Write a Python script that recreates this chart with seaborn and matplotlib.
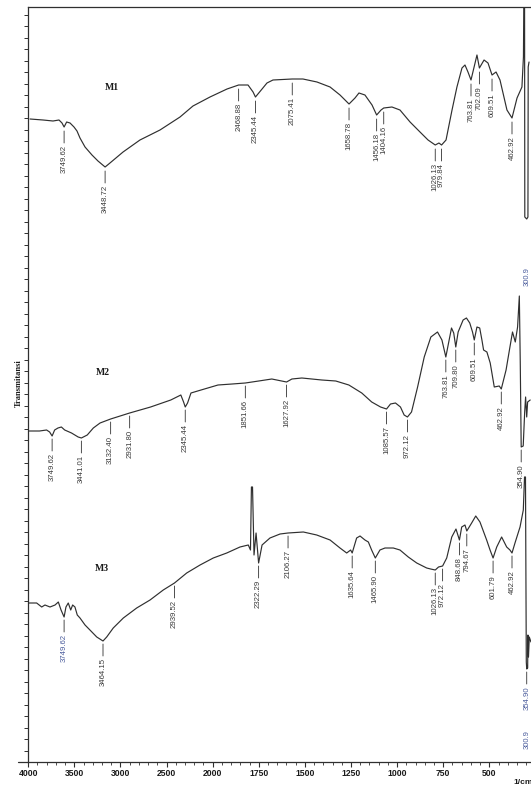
import numpy as np
import pandas as pd
import matplotlib
matplotlib.use("Agg")
import matplotlib.pyplot as plt
from matplotlib import font_manager
from matplotlib.ticker import FixedLocator, MultipleLocator, NullFormatter
from matplotlib.lines import Line2D
import seaborn as sns

# ---------------- data ----------------
m1_wn = [4000, 3904, 3831, 3787, 3765, 3749.62, 3731, 3706, 3677, 3655, 3633, 3596, 3545, 3501,
         3448.72, 3413, 3317, 3193, 3046, 2899, 2804, 2679, 2554, 2468.88, 2400, 2363, 2345.44,
         2297, 2261, 2217, 2075.41, 1997, 1894, 1798, 1725, 1658.78, 1615, 1586, 1542, 1490,
         1456.18, 1424, 1404.16, 1344, 1285, 1211, 1138, 1079, 1026.13, 999, 979.84, 947, 903,
         867, 830, 808, 786, 763.81, 734, 720, 702.09, 668, 639, 609.51, 580, 551, 500, 462.92,
         426, 390, 379, 374, 371, 369, 354.90, 346, 344, 338]
m1_t = [64.3, 64.2, 64.1, 64.2, 63.9, 63.5, 64.0, 63.9, 63.5, 63.1, 62.4, 61.5, 60.7, 60.1,
        59.5, 59.9, 61.0, 62.2, 63.2, 64.5, 65.6, 66.5, 67.3, 67.7, 67.7, 67.0, 66.5,
        67.3, 67.9, 68.2, 68.3, 68.3, 68.0, 67.5, 66.7, 65.8, 66.4, 66.9, 66.7, 65.7,
        64.7, 65.2, 65.4, 65.5, 65.2, 64.0, 63.0, 62.2, 61.7, 61.9, 61.7, 62.2, 65.2,
        67.5, 69.4, 69.7, 69.0, 68.2, 69.9, 70.7, 69.4, 70.2, 69.9, 68.7, 69.0, 68.2, 65.2, 64.4,
        66.4, 67.5, 70.5, 80.0, 80.0, 54.5, 54.3, 54.5, 69.5, 70.0]
m1_peaks = [3749.62, 3448.72, 2468.88, 2345.44, 2075.41, 1658.78, 1456.18, 1404.16,
            1026.13, 979.84, 763.81, 702.09, 609.51, 462.92]

m2_wn = [4000, 3883, 3808, 3776, 3749.62, 3723, 3688, 3652, 3617, 3545, 3475, 3441.01, 3379,
         3315, 3244, 3132.40, 2931.80, 2711, 2498, 2392, 2363, 2345.44, 2321, 2285, 2179, 2000,
         1923, 1851.66, 1779, 1708, 1627.92, 1599, 1545, 1491, 1437, 1361, 1290, 1220, 1166,
         1118, 1085.57, 1064, 1037, 1010, 990, 972.12, 950, 917, 881, 845, 809, 785, 763.81,
         749, 733, 721, 709.80, 697, 670, 652, 634, 619, 609.51, 595, 580, 568, 559, 541, 523,
         501, 474, 462.92, 437, 416, 402, 387, 374.5, 365, 360, 354.90, 344, 336, 331, 325,
         320, 306]
m2_t = [33.1, 33.1, 33.2, 33.0, 32.6, 33.2, 33.4, 33.5, 33.2, 32.9, 32.5, 32.4, 32.7,
        33.4, 33.9, 34.3, 34.9, 35.5, 36.2, 36.7, 36.0, 35.5, 35.9, 36.9, 37.2, 37.7,
        37.8, 37.9, 38.1, 38.3, 38.0, 38.3, 38.4, 38.3, 38.2, 38.1, 37.7, 36.9, 36.0,
        35.5, 35.3, 35.8, 35.9, 35.5, 34.7, 34.5, 35.0, 37.5, 40.5, 42.5, 43.0, 42.2, 40.5,
        41.9, 43.4, 42.9, 41.5, 43.0, 44.2, 44.4, 43.9, 43.0, 42.2, 43.5, 43.4, 42.2, 41.2, 41.0, 39.9,
        37.5, 37.6, 37.3, 39.2, 41.5, 43.0, 42.0, 43.5, 46.6, 40.0, 31.5, 31.6, 35.0, 36.5, 34.5,
        36.0, 36.2]
m2_peaks = [3749.62, 3441.01, 3132.40, 2931.80, 2345.44, 1851.66, 1627.92, 1085.57, 972.12,
            763.81, 709.80, 609.51, 462.92, 354.90]

m3_wn = [4012, 3951, 3914, 3890, 3853, 3816, 3792, 3772, 3749.62, 3736, 3719, 3701, 3687, 3670,
         3653, 3633, 3596, 3560, 3510, 3464.15, 3437, 3389, 3315, 3217, 3119, 3022, 2939.52,
         2850, 2752, 2655, 2556, 2459, 2398, 2382, 2375, 2367, 2356, 2341, 2322.29, 2297, 2239,
         2165, 2106.27, 1994, 1896, 1798, 1725, 1676, 1647, 1635.64, 1603, 1578, 1542, 1517,
         1493, 1465.90, 1432, 1395, 1334, 1285, 1224, 1162, 1089, 1060, 1026.13, 1002, 972.12,
         942, 905, 874, 848.68, 832, 808, 794.67, 759, 729, 698, 649, 624, 601.79, 575, 539,
         502, 478, 462.92, 441, 404, 380, 371, 364, 358, 354.90, 348, 346, 342, 336, 324]
m3_t = [15.9, 15.9, 15.5, 15.7, 15.5, 15.7, 16.0, 15.2, 14.5, 15.5, 15.9, 15.2, 15.7, 15.5,
        14.7, 14.4, 13.7, 13.2, 12.5, 12.1, 12.5, 13.4, 14.4, 15.4, 16.2, 17.2, 17.9,
        18.9, 19.7, 20.4, 20.9, 21.5, 21.7, 21.2, 27.5, 27.5, 20.7, 22.9, 19.9, 21.7, 22.4,
        22.8, 22.9, 23.0, 22.7, 22.2, 21.4, 20.9, 21.2, 20.9, 22.4, 22.6, 22.2, 22.0,
        21.2, 20.4, 21.2, 21.4, 21.4, 21.2, 20.5, 19.9, 19.4, 19.3, 19.2, 19.5, 19.6,
        20.4, 22.5, 23.3, 22.2, 23.5, 23.7, 23.1, 23.9, 24.6, 24.0, 22.2, 21.2, 20.4, 21.5, 22.5,
        21.5, 21.2, 20.9, 21.9, 23.5, 25.2, 28.5, 28.5, 10.0, 9.3, 9.4, 12.7, 10.5, 12.5, 12.0]
m3_peaks = [3749.62, 3464.15, 2939.52, 2322.29, 2106.27, 1635.64, 1465.90, 1026.13, 972.12,
            848.68, 794.67, 601.79, 462.92, 354.90]

sample_names = ["M1", "M2", "M3"]
tick_values = [4000, 3500, 3000, 2500, 2000, 1750, 1500, 1250, 1000, 750, 500]
tick_labels = ["4000", "3500", "3000", "2500", "2000", "1750", "1500", "1250", "1000", "750", "500"]
end_label = "300.9"

# ---------------- styling ----------------
sns.set_theme(style="ticks")
names = {f.name for f in font_manager.fontManager.ttflist}
narrow = "Liberation Sans Narrow" if "Liberation Sans Narrow" in names else "Liberation Sans"
plt.rcParams["font.family"] = ["Liberation Sans", "DejaVu Sans"]

LINE_C = "#2f2f2f"
TEXT_C = "#3a3a3a"
BLUE_C = "#4a5c9c"
peak_fs = 6.5 if narrow == "Liberation Sans Narrow" else 5.6


def piecewise(ratio):
    def fwd(w):
        w = np.asarray(w, dtype=float)
        return np.where(w >= 2000, 2000 + (w - 2000) / ratio, w)

    def inv(u):
        u = np.asarray(u, dtype=float)
        return np.where(u >= 2000, 2000 + (u - 2000) * ratio, u)
    return fwd, inv


W, H = 531, 789
fig = plt.figure(figsize=(W / 100, H / 100), dpi=100, facecolor="white")
ax = fig.add_axes([28 / W, 27 / H, 503 / W, 755 / H])
ax.set_facecolor("white")
ax.set_xscale("function", functions=piecewise(2.0))
ax.set_xlim(4003, 274)
ax.set_ylim(0, 75.5)

# printed wavenumber axis
ax.xaxis.set_major_locator(FixedLocator(tick_values))
ax.set_xticklabels(tick_labels)
minor = [v for v in range(3900, 2000, -100) if v % 500] + [v for v in range(1950, 250, -50) if v % 250]
ax.xaxis.set_minor_locator(FixedLocator(minor))
ax.tick_params(axis="x", which="major", direction="out", length=3.6, width=0.8,
               color=LINE_C, pad=1.2, labelsize=6.2, labelcolor="#1a1a1a")
ax.tick_params(axis="x", which="minor", direction="out", length=2.2, width=0.6, color=LINE_C)
for lbl in ax.get_xticklabels():
    lbl.set_fontweight("bold")
ax.yaxis.set_major_locator(MultipleLocator(1.15))
ax.yaxis.set_major_formatter(NullFormatter())
ax.tick_params(axis="y", which="major", direction="out", length=2.8, width=0.7, color=LINE_C)
for side in ["left", "bottom", "top"]:
    ax.spines[side].set_color(LINE_C)
    ax.spines[side].set_linewidth(0.9)
ax.spines["right"].set_visible(False)
ax.set_xlabel("")
ax.set_ylabel("")

# M2 in its own (scanned) piecewise frame
ax_m2 = ax.twiny()
ax_m2.set_xscale("function", functions=piecewise(1.944))
ax_m2.set_xlim(4004, 301.7)
ax_m2.axis("off")

# M1 and M3 on a linear wavenumber frame
ax_lin = ax.twiny()
ax_lin.set_xlim(4014.5, 323.5)
ax_lin.axis("off")

df1 = pd.DataFrame({"wn": m1_wn, "t": m1_t})
df2 = pd.DataFrame({"wn": m2_wn, "t": m2_t})
df3 = pd.DataFrame({"wn": m3_wn, "t": m3_t})
for d, a in [(df1, ax_lin), (df2, ax_m2), (df3, ax_lin)]:
    sns.lineplot(data=d, x="wn", y="t", ax=a, sort=False, estimator=None,
                 color=LINE_C, linewidth=0.85)
    a.set_xlabel("")
    a.set_ylabel("")


def label_peaks(axx, wn, vals, peaks, blue=(), gap=4, length=12):
    wn_arr = np.asarray(wn, dtype=float)
    v = np.asarray(vals, dtype=float)
    for p in peaks:
        i = int(np.argmin(np.abs(wn_arr - p)))
        y = v[i]
        axx.annotate("", xy=(p, y), xytext=(0, -(gap + length)), textcoords="offset pixels",
                     arrowprops=dict(arrowstyle="-", lw=0.6, color=LINE_C,
                                     shrinkA=0, shrinkB=gap * 0.72))
        axx.annotate(f"{p:.2f}", xy=(p, y), xytext=(0, -(gap + length + 2)),
                     textcoords="offset pixels", rotation=90, ha="center", va="top",
                     fontsize=peak_fs, family=[narrow, "DejaVu Sans"],
                     color=BLUE_C if p in blue else TEXT_C)


label_peaks(ax_lin, m1_wn, m1_t, m1_peaks)
label_peaks(ax_m2, m2_wn, m2_t, m2_peaks, gap=3)
label_peaks(ax_lin, m3_wn, m3_t, m3_peaks, blue=(3749.62, 354.90), gap=3)

# sample names
for name, (x, y) in zip(sample_names, [(3398, 67.5), (3464, 39.0), (3471, 19.4)]):
    ax_lin.text(x, y, name, ha="center", va="center", fontsize=7, fontweight="bold",
                family=["Liberation Serif", "DejaVu Serif"], color="#1a1a1a")

# end-of-range labels
for y in (48.5, 2.2):
    ax_m2.text(300.9, y, end_label, rotation=90, ha="right", va="center",
               fontsize=5.5, family=[narrow, "DejaVu Sans"], color=BLUE_C, clip_on=False)

fig.text(19 / W, 1 - 383 / H, "Transmitansi", rotation=90, ha="center", va="center",
         fontsize=6, fontweight="bold", family=["Liberation Serif", "DejaVu Serif"], color="#1a1a1a")
fig.text(513 / W, 1 - 783 / H, "1/cm", ha="left", va="center", fontsize=6,
         fontweight="bold", color="#1a1a1a")
fig.add_artist(Line2D([18 / W, 28 / W], [27 / H, 27 / H], transform=fig.transFigure,
                      lw=0.9, color=LINE_C))

fig.savefig("out.png", dpi=100, facecolor="white")
